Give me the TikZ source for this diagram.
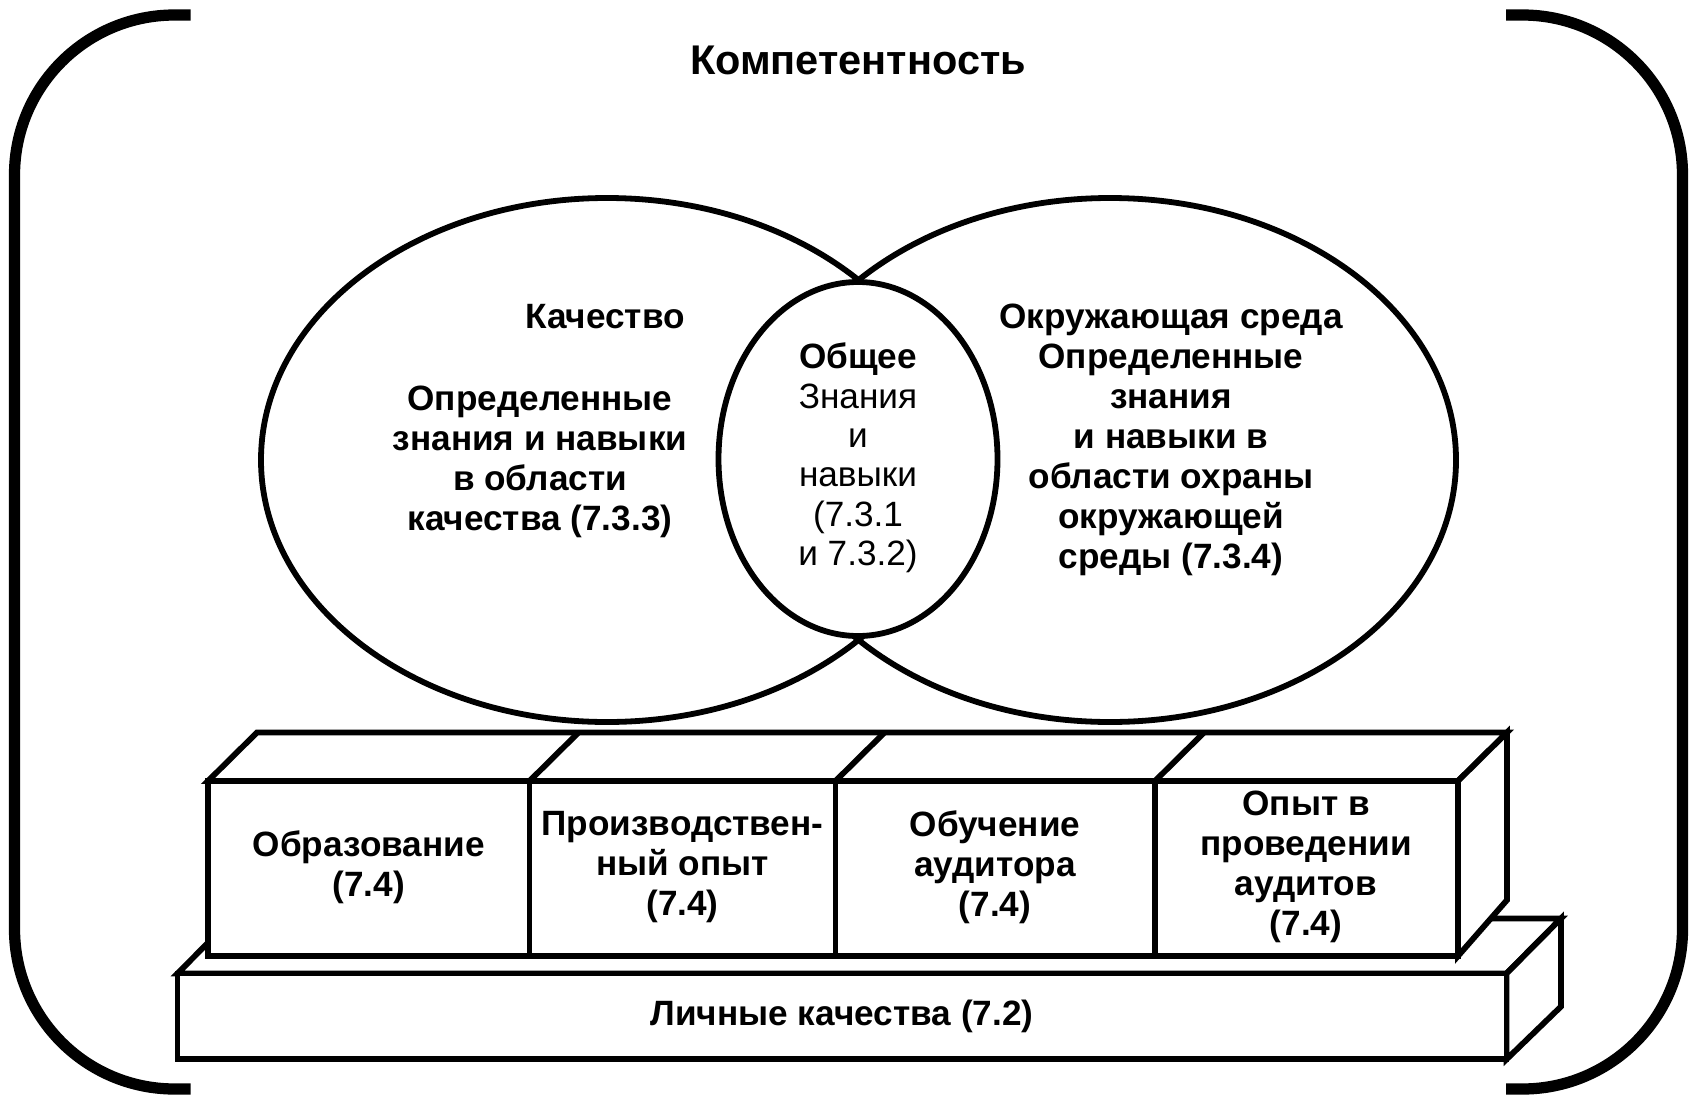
\documentclass[tikz,border=0pt]{standalone}
\usepackage{fontspec}
\setmainfont{Liberation Sans}
\tikzset{
	outl/.style={line width=1.65pt, line join=miter},
	frame/.style={line width=3.2pt, rounded corners=1.6cm},
	txt/.style={align=center, inner sep=0pt, font=\fontsize{10}{11.4}\selectfont\bfseries},
	thin txt/.style={align=center, inner sep=0pt, font=\fontsize{10}{11.2}\selectfont},
	titel/.style={inner sep=0pt, font=\fontsize{11.8}{14}\selectfont\bfseries}
}

\begin{document}
\begin{tikzpicture}[x=0.01cm, y=-0.01cm]
		%%%%% START %%%%%
		\useasboundingbox[fill=white] (0,0) rectangle (1697,1103);
		
		\draw[frame] (190.7,15) -- (14.5,15) -- (14.5,1089) -- (190.7,1089);
		\draw[frame] (1506,15) -- (1682.5,15) -- (1682.5,1089) -- (1506,1089);
		\node[titel] (komp) at (858,60) {Компетентность};
		
		\draw[outl] (607,460) ellipse [x radius=346, y radius=262];
		\draw[outl] (1110,460) ellipse [x radius=346, y radius=262];
		\draw[outl, fill=white] (858,459) ellipse [x radius=139.5, y radius=177];
		
		\node[txt] (qual) at (605,317) {Качество};
		\node[txt] (qualtxt) at (540,462) {Определенные\\знания и навыки\\в области\\качества (7.3.3)};
		\node[thin txt] (common) at (858,458) {\textbf{Общее}\\Знания\\и\\навыки\\(7.3.1\\и 7.3.2)};
		\node[txt] (env) at (1171,440) {Окружающая среда\\Определенные\\знания\\и навыки в\\области охраны\\окружающей\\среды (7.3.4)};
		
		\draw[outl, fill=white] (177.5,973.5) -- (232,918.5) -- (1561,918.5) -- (1506.5,973.5) -- cycle;
		\draw[outl, fill=white] (1506.5,973.5) -- (1561,918.5) -- (1561,1006.5) -- (1506.5,1059.3) -- cycle;
		\draw[outl, fill=white] (177.5,973.5) rectangle (1506.5,1059.3);
		\node[txt] (personal) at (842,1016) {Личные качества (7.2)};
		
		\draw[outl, fill=white] (208,781) -- (257,732.5) -- (1507,732.5) -- (1458,781) -- cycle;
		\foreach \a in {529.5, 835.5, 1155}
			\draw[outl] (\a,781) -- ++(49,-48.5);
		\draw[outl, fill=white] (1458,781) -- (1507,732.5) -- (1507,900) -- (1458,956) -- cycle;
		\foreach \l/\r in {208/529.5, 529.5/835.5, 835.5/1155, 1155/1458}
			\draw[outl, fill=white] (\l,781) rectangle (\r,956);
		
		\node[txt] (edu) at (368.75,867) {Образование\\(7.4)};
		\node[txt] (work) at (682.5,867) {Производствен-\\ный опыт\\(7.4)};
		\node[txt] (train) at (995,867) {Обучение\\аудитора\\(7.4)};
		\node[txt] (audit) at (1306,867) {Опыт в\\проведении\\аудитов\\(7.4)};
		
		%%%%% END %%%%%
\end{tikzpicture}
\end{document}
